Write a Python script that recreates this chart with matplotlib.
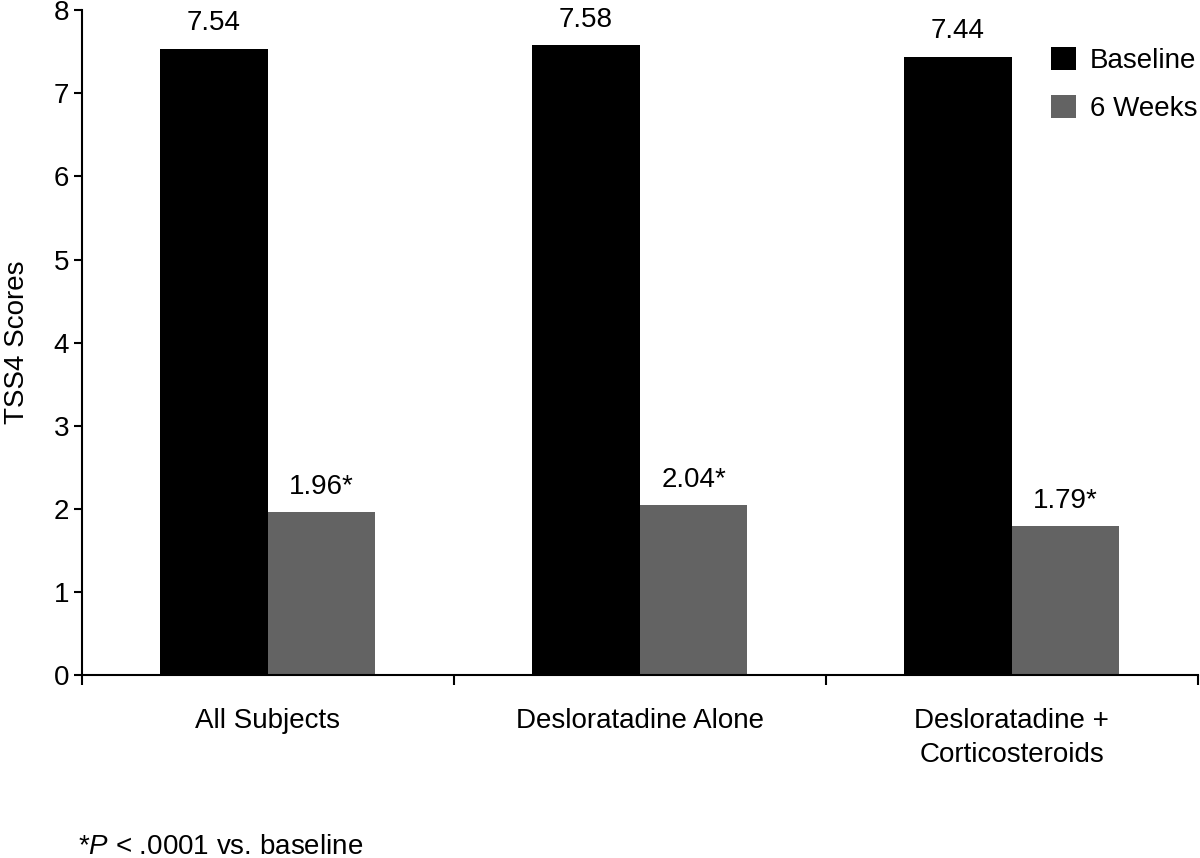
import matplotlib
matplotlib.use("Agg")
import matplotlib.pyplot as plt
import numpy as np

categories = ["All Subjects", "Desloratadine Alone", "Desloratadine +\nCorticosteroids"]
baseline = [7.54, 7.58, 7.44]
weeks6 = [1.96, 2.04, 1.79]
baseline_labels = ["7.54", "7.58", "7.44"]
weeks6_labels = ["1.96*", "2.04*", "1.79*"]
yticks = [0, 1, 2, 3, 4, 5, 6, 7, 8]

plt.rcParams['font.family'] = ['Liberation Sans', 'DejaVu Sans']
plt.rcParams['mathtext.fontset'] = 'custom'
plt.rcParams['mathtext.it'] = 'Liberation Sans:italic'
plt.rcParams['mathtext.rm'] = 'Liberation Sans'

FS = 20

fig = plt.figure(figsize=(12, 8.58), dpi=100)
ax = fig.add_axes([0.068, 0.2133, 0.93, 0.7747])

x = np.arange(len(categories))
w = 0.29
b1 = ax.bar(x - w / 2, baseline, width=w, color="#000000", label="Baseline")
b2 = ax.bar(x + w / 2, weeks6, width=w, color="#636363", label="6 Weeks")

for rect, lab in zip(b1, baseline_labels):
    ax.annotate(lab, (rect.get_x() + rect.get_width() / 2, rect.get_height()),
                xytext=(0, 9), textcoords="offset points", ha="center", va="bottom", fontsize=FS)
for rect, lab in zip(b2, weeks6_labels):
    ax.annotate(lab, (rect.get_x() + rect.get_width() / 2, rect.get_height()),
                xytext=(0, 9), textcoords="offset points", ha="center", va="bottom", fontsize=FS)

ax.set_xlim(-0.5, 2.5)
ax.set_ylim(0, 8)
ax.set_yticks(yticks)
ax.tick_params(axis="y", labelsize=FS, length=6, width=1.5, direction="out", pad=3)
ax.set_xticks(x)
ax.set_xticklabels(categories, fontsize=FS, linespacing=1.4)
ax.tick_params(axis="x", which="major", length=0, pad=24)
ax.set_xticks([-0.5, 0.5, 1.5, 2.5], minor=True)
ax.tick_params(axis="x", which="minor", length=7, width=1.5, direction="out")
for side in ["top", "right"]:
    ax.spines[side].set_visible(False)
for side in ["left", "bottom"]:
    ax.spines[side].set_linewidth(1.5)
ax.set_ylabel("TSS4 Scores", fontsize=FS, labelpad=17)

ax.legend(loc="upper right", bbox_to_anchor=(1.022, 0.982), frameon=False, fontsize=FS,
          handlelength=0.9, handleheight=0.9, handletextpad=0.5, labelspacing=0.75)

fig.text(0.065, 0.028, r"*$\mathit{P}$ < .0001 vs. baseline", fontsize=FS, ha="left", va="top")

fig.savefig("out.png", dpi=100)
